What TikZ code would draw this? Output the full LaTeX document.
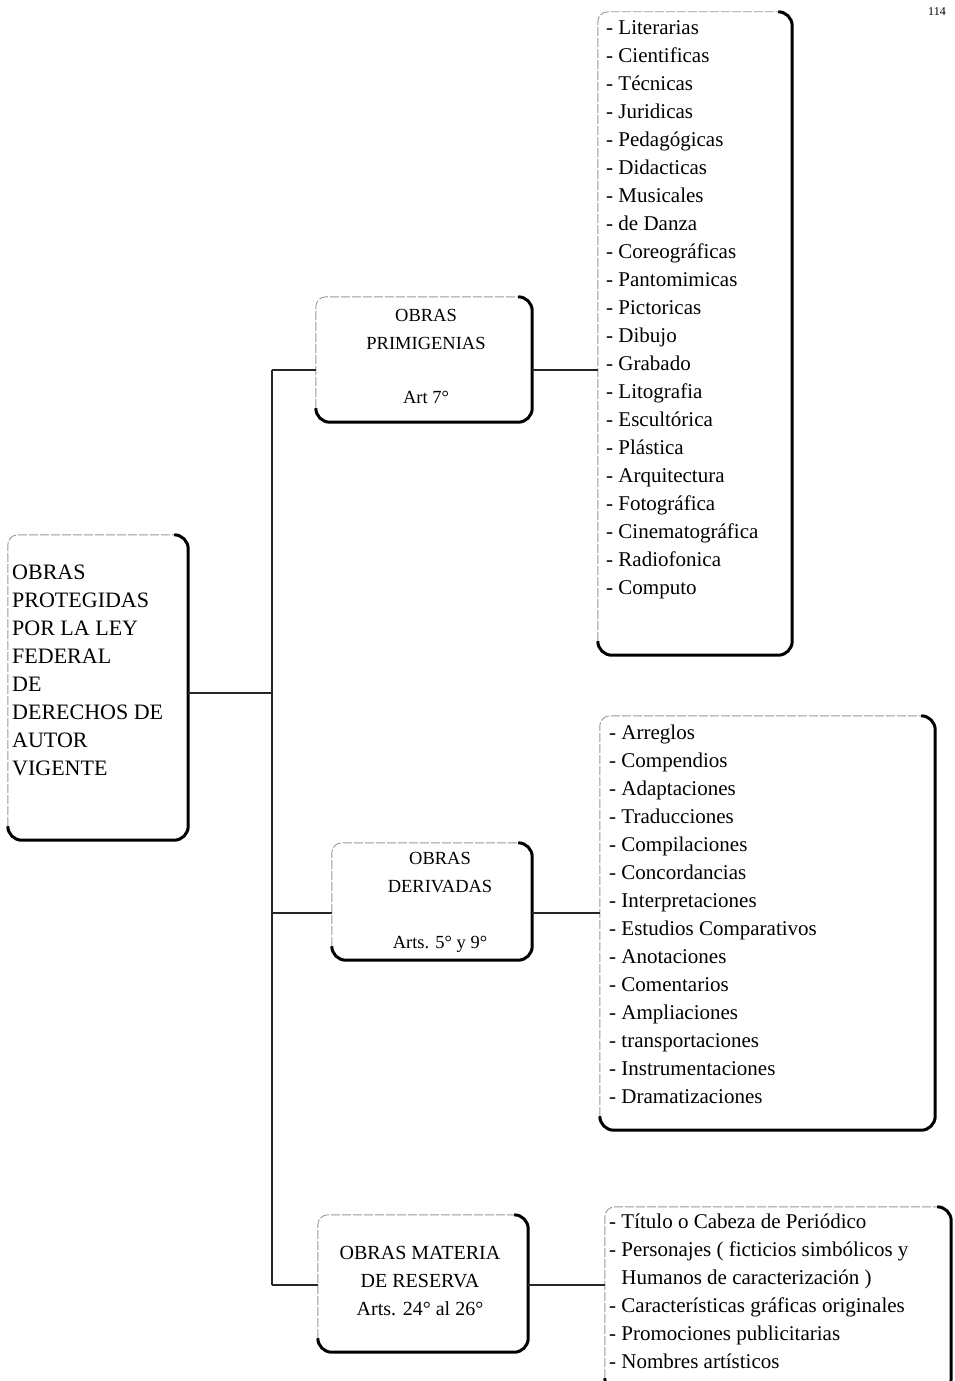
\documentclass[tikz,border=0pt]{standalone}
\usepackage{fontspec}
\setmainfont{Liberation Serif}
\newcommand\drawframe[1]{%
  \draw[faint] ([yshift=14pt]#1.south west) -- (#1.north west) -- ([xshift=-14pt]#1.north east);
  \draw[heavy] ([xshift=-14pt]#1.north east) -- (#1.north east) -- (#1.south east) -- (#1.south west) -- ([yshift=14pt]#1.south west);}
\begin{document}
\begin{tikzpicture}[x=1pt,y=-1pt,
  frame/.style={inner sep=0pt, draw=none},
  faint/.style={line width=0.9pt, black!40, dash pattern=on 9pt off 2pt, rounded corners=10pt},
  heavy/.style={line width=3pt, black, rounded corners=14pt},
  conn/.style={line width=1.4pt, black!85},
  lbl/.style={inner sep=0pt, align=center},
  lst/.style={inner sep=0pt, align=left, anchor=north west, font=\fontsize{21}{28}\selectfont}]
\useasboundingbox (0,0) rectangle (954,1381);
\fill[white] (0,0) rectangle (954,1381);

% frames
\node[frame, minimum width=180pt, minimum height=305pt] (main) at (98,687.5) {};
\node[frame, minimum width=216pt, minimum height=125pt] (b1) at (424,359.5) {};
\node[frame, minimum width=200pt, minimum height=117pt] (b2) at (432,901.5) {};
\node[frame, minimum width=210pt, minimum height=137pt] (b3) at (423,1283.5) {};
\node[frame, minimum width=194pt, minimum height=643pt] (l1) at (695,333.5) {};
\node[frame, minimum width=335pt, minimum height=414pt] (l2) at (767.5,923) {};
\node[frame, minimum width=346pt, minimum height=185pt] (l3) at (778,1299.5) {};
\foreach \n in {main,b1,b2,b3,l1,l2,l3} {\drawframe{\n}}

% texts
\node[inner sep=0pt, align=left, anchor=north west, font=\fontsize{22}{28}\selectfont] (maintxt) at (12,565)
 {OBRAS\\PROTEGIDAS\\POR LA LEY\\FEDERAL\\DE\\DERECHOS DE\\AUTOR\\VIGENTE};
\node[lbl, font=\fontsize{18.5}{28}\selectfont] (b1t) at (426,356) {OBRAS\\PRIMIGENIAS\\[26pt]Art 7°};
\node[lbl, font=\fontsize{18.5}{28}\selectfont] (b2t) at (440,902) {OBRAS\\DERIVADAS\\[28pt]Arts. 5° y 9°};
\node[lbl, font=\fontsize{20}{28}\selectfont] (b3t) at (420,1281) {OBRAS MATERIA\\DE RESERVA\\Arts. 24° al 26°};

\node[lst] (l1t) at (606,20) {- Literarias\\- Cientificas\\- Técnicas\\- Juridicas\\- Pedagógicas\\- Didacticas\\- Musicales\\- de Danza\\- Coreográficas\\- Pantomimicas\\- Pictoricas\\- Dibujo\\- Grabado\\- Litografia\\- Escultórica\\- Plástica\\- Arquitectura\\- Fotográfica\\- Cinematográfica\\- Radiofonica\\- Computo};
\node[lst] (l2t) at (609,725) {- Arreglos\\- Compendios\\- Adaptaciones\\- Traducciones\\- Compilaciones\\- Concordancias\\- Interpretaciones\\- Estudios Comparativos\\- Anotaciones\\- Comentarios\\- Ampliaciones\\- transportaciones\\- Instrumentaciones\\- Dramatizaciones};
\node[lst] (l3t) at (609,1214) {- Título o Cabeza de Periódico\\- Personajes ( ficticios simbólicos y\\\hphantom{- }Humanos de caracterización )\\- Características gráficas originales\\- Promociones publicitarias\\- Nombres artísticos};

\node[inner sep=0pt, font=\fontsize{12}{14}\selectfont] (pg) at (937,12) {114};

% connectors
\coordinate (j1) at (272,370);
\coordinate (jm) at (272,693);
\coordinate (j2) at (272,913);
\coordinate (j3) at (272,1285);
\draw[conn] (j1) -- (j3);
\draw[conn] (main.east |- jm) -- (jm);
\draw[conn] (j1) -- (j1 -| b1.west);
\draw[conn] (j2) -- (j2 -| b2.west);
\draw[conn] (j3) -- (j3 -| b3.west);
\draw[conn] (b1.east |- j1) -- (l1.west |- j1);
\draw[conn] (b2.east |- j2) -- (l2.west |- j2);
\draw[conn] (b3.east |- j3) -- (l3.west |- j3);
\end{tikzpicture}
\end{document}
